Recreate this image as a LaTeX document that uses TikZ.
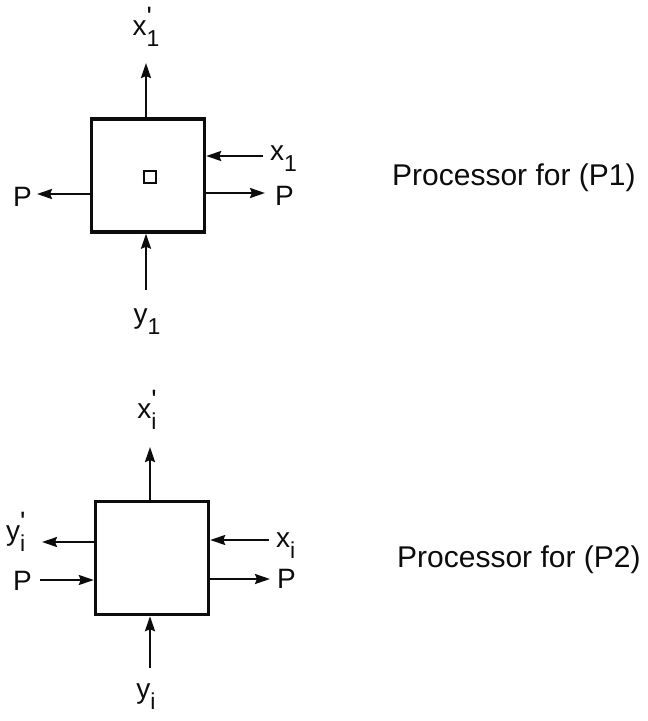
\documentclass[tikz,border=0pt]{standalone}
\usepackage{fontspec}
\setmainfont{Liberation Sans}
\usepackage{tikz}
\usetikzlibrary{arrows.meta, positioning, calc}
\definecolor{InkBlack}{RGB}{12,12,12}
% subscript and primed subscript for the signal labels
\newcommand{\lsub}[1]{\raisebox{-0.42em}{\fontsize{23}{23}\selectfont #1}}
\newcommand{\lsubpr}[1]{\rlap{\raisebox{0.3em}{\textquotesingle}}%
  \raisebox{-0.42em}{\fontsize{23}{23}\selectfont #1}}

\begin{document}
\begin{tikzpicture}[x=1pt, y=-1pt,
    proc/.style={draw=InkBlack, line width=3.4pt, minimum size=113pt, inner sep=0pt},
    cellbox/.style={draw=InkBlack, line width=1.5pt, minimum size=12pt, inner sep=0pt},
    sig/.style={draw=InkBlack, line width=2.3pt,
                -{Stealth[length=15pt, width=10pt, inset=2pt]}},
    lab/.style={font=\fontsize{28}{28}\selectfont, text=InkBlack, inner sep=0pt},
    desc/.style={font=\fontsize{30}{30}\selectfont, text=InkBlack, inner sep=0pt}]
  \useasboundingbox (0,0) rectangle (648,721);

  % processor for (P1)
  \node[proc] (p1) at (148,175.5) {};
  \node[cellbox] (sq1) at (150,177) {};
  \node[desc, anchor=base west] (t1) at (392,185) {Processor for (P1)};
  \node[lab, anchor=base] (lxo1) at (146,35) {x\lsubpr{1}};
  \node[lab, anchor=base west] (lx1) at (270,160) {x\lsub{1}};
  \node[lab, anchor=base west] (lpl1) at (13,206) {P};
  \node[lab, anchor=base west] (lpr1) at (275,205) {P};
  \node[lab, anchor=base] (ly1) at (147,323) {y\lsub{1}};
  \coordinate (u1) at (146,63);
  \coordinate (a1) at (263,156);
  \coordinate (b1) at (265,193);
  \coordinate (c1) at (37,194);
  \coordinate (d1) at (146,290);
  \draw[sig] (u1 |- p1.north) -- (u1);
  \draw[sig] (a1) -- (a1 -| p1.east);
  \draw[sig] (b1 -| p1.east) -- (b1);
  \draw[sig] (c1 -| p1.west) -- (c1);
  \draw[sig] (d1) -- (d1 |- p1.south);

  % processor for (P2)
  \node[proc] (p2) at (152,558) {};
  \node[desc, anchor=base west] (t2) at (397,567) {Processor for (P2)};
  \node[lab, anchor=base] (lxo2) at (147,418) {x\lsubpr{i}};
  \node[lab, anchor=base west] (lyo2) at (6,540) {y\lsubpr{i}};
  \node[lab, anchor=base west] (lpl2) at (13,590) {P};
  \node[lab, anchor=base west] (lx2) at (276,547) {x\lsub{i}};
  \node[lab, anchor=base west] (lpr2) at (277,588) {P};
  \node[lab, anchor=base] (ly2) at (146,698) {y\lsub{i}};
  \coordinate (u2) at (150,447);
  \coordinate (a2) at (269,540);
  \coordinate (b2) at (270,579);
  \coordinate (c2) at (42,542);
  \coordinate (e2) at (40,580);
  \coordinate (d2) at (150,668);
  \draw[sig] (u2 |- p2.north) -- (u2);
  \draw[sig] (a2) -- (a2 -| p2.east);
  \draw[sig] (b2 -| p2.east) -- (b2);
  \draw[sig] (c2 -| p2.west) -- (c2);
  \draw[sig] (e2) -- (e2 -| p2.west);
  \draw[sig] (d2) -- (d2 |- p2.south);
\end{tikzpicture}
\end{document}
